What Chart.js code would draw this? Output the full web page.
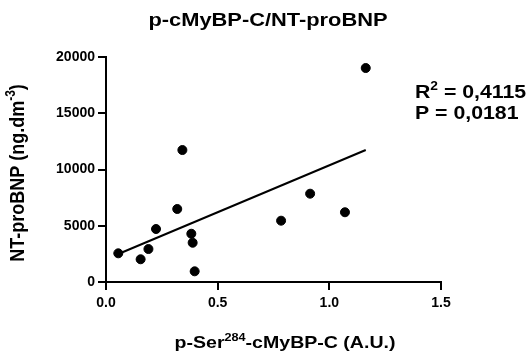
<!DOCTYPE html>
<html>
<head>
<meta charset="utf-8">
<script src="https://cdn.jsdelivr.net/npm/chart.js@4"></script>
<style>
  html, body { margin: 0; padding: 0; background: #fff; }
  canvas { display: block; }
</style>
</head>
<body>
<canvas id="chart" width="528" height="356"></canvas>
<script>
// Dades llegides de la figura
const serXValues = [0.055, 0.155, 0.19, 0.224, 0.319, 0.342, 0.382, 0.388, 0.397, 0.784, 0.914, 1.07, 1.163];
const bnpValues  = [2550, 2020, 2930, 4710, 6490, 11730, 4290, 3490, 950, 5450, 7850, 6200, 19020];

// Recta de regressió (extrems llegits de la figura)
const fitX = [0.055, 1.163];
const fitY = [2490, 11730];

const xTicks = [0, 0.5, 1.0, 1.5];
const yTicks = [0, 5000, 10000, 15000, 20000];

const chartTitle = 'p-cMyBP-C/NT-proBNP';
const xTitle = [{ t: 'p-Ser' }, { t: '284', sup: true }, { t: '-cMyBP-C (A.U.)' }];
const yTitle = [{ t: 'NT-proBNP (ng.dm' }, { t: '-3', sup: true }, { t: ')' }];
const statLines = [
  [{ t: 'R' }, { t: '2', sup: true }, { t: ' = 0,4115' }],
  [{ t: 'P = 0,0181' }],
];

const FONT = "'Liberation Sans', Arial, sans-serif";
const STRETCH = 1.15;

// ── Text amb superíndexs ──────────────────────────────────────────────────
function segWidth(ctx, segs, size) {
  let w = 0;
  segs.forEach(s => {
    ctx.font = `bold ${s.sup ? Math.round(size * 0.65) : size}px ${FONT}`;
    w += ctx.measureText(s.t).width;
  });
  return w;
}

function drawSegs(ctx, segs, size, x, y) {
  let cx = x;
  segs.forEach(s => {
    ctx.font = `bold ${s.sup ? Math.round(size * 0.65) : size}px ${FONT}`;
    ctx.fillText(s.t, cx, s.sup ? y - size * 0.42 : y);
    cx += ctx.measureText(s.t).width;
  });
}

// cx = centre horitzontal, y = línia base
function drawCentered(ctx, segs, size, cx, y) {
  ctx.save();
  ctx.translate(cx, y);
  ctx.scale(STRETCH, 1);
  const w = segWidth(ctx, segs, size);
  ctx.fillStyle = '#000';
  ctx.textBaseline = 'alphabetic';
  ctx.textAlign = 'left';
  drawSegs(ctx, segs, size, -w / 2, 0);
  ctx.restore();
}

function drawLeft(ctx, segs, size, x, y) {
  ctx.save();
  ctx.translate(x, y);
  ctx.scale(STRETCH, 1);
  ctx.fillStyle = '#000';
  ctx.textBaseline = 'alphabetic';
  ctx.textAlign = 'left';
  drawSegs(ctx, segs, size, 0, 0);
  ctx.restore();
}

const labelsPlugin = {
  id: 'labels',
  afterDraw(chart) {
    const ctx = chart.ctx;
    drawCentered(ctx, [{ t: chartTitle }], 19, 268, 26);
    drawCentered(ctx, xTitle, 17, 285, 348);
    // text girat: la línia base queda a la dreta
    ctx.save();
    ctx.translate(24, 173);
    ctx.scale(STRETCH, 1);
    ctx.rotate(-Math.PI / 2);
    const w = segWidth(ctx, yTitle, 18);
    ctx.fillStyle = '#000';
    ctx.textBaseline = 'alphabetic';
    drawSegs(ctx, yTitle, 18, -w / 2, 0);
    ctx.restore();
    drawLeft(ctx, statLines[0], 18.5, 415, 98);
    drawLeft(ctx, statLines[1], 18.5, 415, 119);
  }
};

const axisStyle = {
  grid: {
    display: true,
    drawOnChartArea: false,
    drawTicks: true,
    tickLength: 8,
    color: '#000',
    lineWidth: 2,
  },
  border: { display: true, color: '#000', width: 2 },
};

new Chart(document.getElementById('chart'), {
  type: 'scatter',
  data: {
    datasets: [
      {
        data: serXValues.map((x, i) => ({ x, y: bnpValues[i] })),
        backgroundColor: '#000',
        borderColor: '#000',
        pointRadius: 4.5,
        pointHoverRadius: 4.5,
      },
      {
        type: 'line',
        data: fitX.map((x, i) => ({ x, y: fitY[i] })),
        borderColor: '#000',
        borderWidth: 2,
        pointRadius: 0,
        fill: false,
      },
    ]
  },
  options: {
    responsive: false,
    animation: false,
    devicePixelRatio: 1,
    layout: { padding: { left: 0, right: 87, top: 57, bottom: 0 } },
    plugins: {
      legend: { display: false },
      tooltip: { enabled: false },
      title: { display: false },
    },
    scales: {
      x: {
        type: 'linear',
        min: 0,
        max: 1.5,
        afterBuildTicks: s => { s.ticks = xTicks.map(v => ({ value: v })); },
        afterFit: s => { s.height = 74; },
        ticks: {
          color: '#000',
          padding: 5,
          font: { family: FONT, size: 14, weight: 'bold' },
          callback: v => v.toFixed(1),
        },
        ...axisStyle,
      },
      y: {
        type: 'linear',
        min: 0,
        max: 20000,
        afterBuildTicks: s => { s.ticks = yTicks.map(v => ({ value: v })); },
        afterFit: s => { s.width = 106; },
        ticks: {
          color: '#000',
          padding: 3,
          font: { family: FONT, size: 14, weight: 'bold' },
          callback: v => String(v),
        },
        ...axisStyle,
      },
    }
  },
  plugins: [labelsPlugin]
});
</script>
</body>
</html>
